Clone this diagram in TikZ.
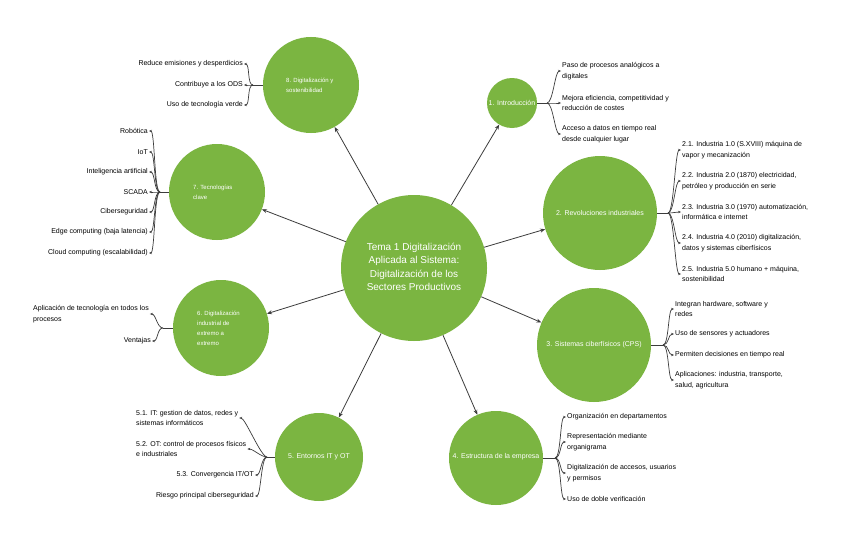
\documentclass[tikz,border=0pt]{standalone}
\usepackage{fontspec}
\setmainfont{Liberation Sans}
\usetikzlibrary{arrows.meta,calc}
\definecolor{leaf}{RGB}{123,181,65}
\definecolor{ink}{RGB}{60,60,60}
\begin{document}
\begin{tikzpicture}[x=1pt,y=-1pt,
  bubble/.style={circle,fill=leaf,draw=none,inner sep=0pt,minimum size=#1},
  main/.style={-{Stealth[length=5pt,width=4pt]},draw=ink,line width=0.8pt},
  twig/.style={-{Stealth[length=3pt,width=2.4pt]},draw=ink,line width=0.7pt},
  stub/.style={draw=ink,line width=0.7pt},
  item/.style={font=\fontsize{7}{10.5}\selectfont,align=left,inner sep=1pt,text=black},
  lab/.style={font=\fontsize{7}{8.5}\selectfont,text=white,align=center,inner sep=0pt},
  slab/.style={font=\fontsize{6}{10}\selectfont,text=white,align=left,inner sep=0pt,anchor=west},
]
\useasboundingbox[fill=white] (0,0) rectangle (848,543);

% circles
\node[bubble=146pt] (c) at (414,268) {};
\node[bubble=50pt] (n1) at (512,103) {};
\node[bubble=114pt] (n2) at (600,213) {};
\node[bubble=114pt] (n3) at (594,345) {};
\node[bubble=94pt] (n4) at (496,458) {};
\node[bubble=88pt] (n5) at (319,457) {};
\node[bubble=96pt] (n6) at (221,328) {};
\node[bubble=96pt] (n7) at (217,192) {};
\node[bubble=96pt] (n8) at (311,85) {};

% labels
\node[font=\fontsize{10}{13.5}\selectfont,text=white,align=center] (t) at (414,267)
  {Tema 1 Digitalización\\Aplicada al Sistema:\\Digitalización de los\\Sectores Productivos};
\node[lab] (l1) at (512,103) {1. Introducción};
\node[lab] (l2) at (600,213) {2. Revoluciones industriales};
\node[lab] (l3) at (594,345) {3. Sistemas ciberfísicos (CPS)};
\node[lab] (l4) at (496,457) {4. Estructura de la empresa};
\node[lab] (l5) at (319,457) {5. Entornos IT y OT};
\node[slab] (l6) at (197,328) {6. Digitalización\\industrial de\\extremo a\\extremo};
\node[slab] (l7) at (193,192) {7. Tecnologías\\clave};
\node[slab] (l8) at (286,85) {8. Digitalización y\\sostenibilidad};

% main arrows
\foreach \n in {n1,n2,n3,n4,n5,n6,n7,n8} \draw[main] (c) -- (\n);

% forks
\coordinate (f1) at (547,103);
\coordinate (f2) at (668,213);
\coordinate (f3) at (663,345);
\coordinate (f4) at (555,458);
\coordinate (f5) at (267,457);
\coordinate (f6) at (163,328);
\coordinate (f7) at (160,192);
\coordinate (f8) at (253,85);
\draw[stub] (n1.east) -- (f1);
\draw[stub] (n2.east) -- (f2);
\draw[stub] (n3.east) -- (f3);
\draw[stub] (n4.east) -- (f4);
\draw[stub] (n5.west) -- (f5);
\draw[stub] (n6.west) -- (f6);
\draw[stub] (n7.west) -- (f7);
\draw[stub] (n8.west) -- (f8);

% items 1
\node[item,anchor=west] (i11) at (561,71) {Paso de procesos analógicos a\\digitales};
\node[item,anchor=west] (i12) at (561,103) {Mejora eficiencia, competitividad y\\reducción de costes};
\node[item,anchor=west] (i13) at (561,134) {Acceso a datos en tiempo real\\desde cualquier lugar};
% items 2
\node[item,anchor=west] (i21) at (681,150) {2.1. Industria 1.0 (S.XVIII) máquina de\\vapor y mecanización};
\node[item,anchor=west] (i22) at (681,181) {2.2. Industria 2.0 (1870) electricidad,\\petróleo y producción en serie};
\node[item,anchor=west] (i23) at (681,212) {2.3. Industria 3.0 (1970) automatización,\\informática e internet};
\node[item,anchor=west] (i24) at (681,243) {2.4. Industria 4.0 (2010) digitalización,\\datos y sistemas ciberfísicos};
\node[item,anchor=west] (i25) at (681,274) {2.5. Industria 5.0 humano + máquina,\\sostenibilidad};
% items 3
\node[item,anchor=west] (i31) at (674,309) {Integran hardware, software y\\redes};
\node[item,anchor=west] (i32) at (674,334) {Uso de sensores y actuadores};
\node[item,anchor=west] (i33) at (674,355) {Permiten decisiones en tiempo real};
\node[item,anchor=west] (i34) at (674,380) {Aplicaciones: industria, transporte,\\salud, agricultura};
% items 4
\node[item,anchor=west] (i41) at (566,417) {Organización en departamentos};
\node[item,anchor=west] (i42) at (566,442) {Representación mediante\\organigrama};
\node[item,anchor=west] (i43) at (566,473) {Digitalización de accesos, usuarios\\y permisos};
\node[item,anchor=west] (i44) at (566,499) {Uso de doble verificación};
% items 5
\node[item,anchor=west] (i51) at (135,418) {5.1. IT: gestion de datos, redes y\\sistemas informáticos};
\node[item,anchor=west] (i52) at (135,449) {5.2. OT: control de procesos físicos\\e industriales};
\node[item,anchor=east] (i53) at (255,475) {5.3. Convergencia IT/OT};
\node[item,anchor=east] (i54) at (255,496) {Riesgo principal ciberseguridad};
% items 6
\node[item,anchor=west] (i61) at (32,314) {Aplicación de tecnología en todos los\\procesos};
\node[item,anchor=east] (i62) at (152,341) {Ventajas};
% items 7
\node[item,anchor=east] (i71) at (149,131) {Robótica};
\node[item,anchor=east] (i72) at (149,152) {IoT};
\node[item,anchor=east] (i73) at (149,172) {Inteligencia artificial};
\node[item,anchor=east] (i74) at (149,192) {SCADA};
\node[item,anchor=east] (i75) at (149,212) {Ciberseguridad};
\node[item,anchor=east] (i76) at (149,232) {Edge computing (baja latencia)};
\node[item,anchor=east] (i77) at (149,253) {Cloud computing (escalabilidad)};
% items 8
\node[item,anchor=east] (i81) at (244,64) {Reduce emisiones y desperdicios};
\node[item,anchor=east] (i82) at (244,85) {Contribuye a los ODS};
\node[item,anchor=east] (i83) at (244,105) {Uso de tecnología verde};

% twigs to the right
\foreach \f/\i in {f1/i11,f1/i12,f1/i13,f2/i21,f2/i22,f2/i23,f2/i24,f2/i25,
                   f3/i31,f3/i32,f3/i33,f3/i34,f4/i41,f4/i42,f4/i43,f4/i44}
  \draw[twig] (\f) .. controls ([xshift=6pt]\f) and ([xshift=-6pt]\i.west) .. (\i.west);
% twigs to the left
\foreach \f/\i in {f5/i51,f5/i52,f5/i53,f5/i54,f6/i61,f6/i62,
                   f7/i71,f7/i72,f7/i73,f7/i74,f7/i75,f7/i76,f7/i77,f8/i81,f8/i82,f8/i83}
  \draw[twig] (\f) .. controls ([xshift=-6pt]\f) and ([xshift=6pt]\i.east) .. (\i.east);
\end{tikzpicture}
\end{document}
